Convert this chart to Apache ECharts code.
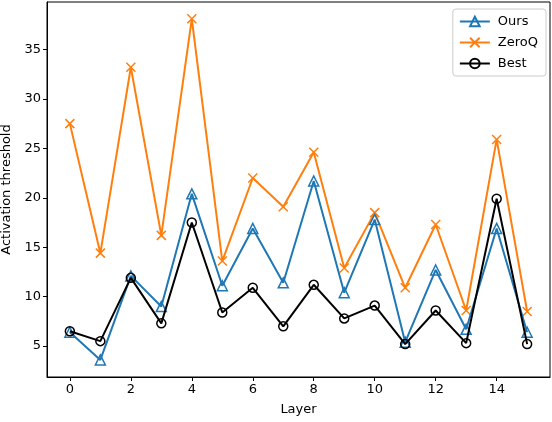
<!DOCTYPE html>
<html><head><meta charset="utf-8">
<script src="https://cdn.jsdelivr.net/npm/echarts@6/dist/echarts.min.js"></script>
<style>html,body{margin:0;padding:0;background:#fff}#c{width:552px;height:422px}</style>
</head><body><div id="c"></div>
<script>
const layers = [0,1,2,3,4,5,6,7,8,9,10,11,12,13,14,15];
const ours  = [6.4,3.6,12.1,9.0,20.4,11.1,16.9,11.4,21.7,10.4,17.8,5.4,12.7,6.7,16.9,6.4];
const zeroq = [27.5,14.4,33.2,16.2,38.1,13.6,22.0,19.1,24.6,12.9,18.5,10.9,17.3,8.6,25.9,8.5];
const best  = [6.5,5.5,11.9,7.3,17.5,8.4,10.9,7.0,11.2,7.8,9.1,5.2,8.6,5.3,19.9,5.2];
const xTicks = [0,2,4,6,8,10,12,14];
const yTicks = [5,10,15,20,25,30,35];

const pair = a => a.map((v,i)=>[layers[i], v]);
const font = 'DejaVu Sans';
const fs = 13;
const chart = echarts.init(document.getElementById('c'), null, {renderer:'canvas'});
const axisCommon = {
  axisLine:{show:true,onZero:false,lineStyle:{color:'#000',width:1}},
  axisTick:{show:true,inside:false,length:4,lineStyle:{color:'#000',width:1}},
  axisLabel:{color:'#000',fontFamily:font,fontSize:fs},
  splitLine:{show:false},
  nameTextStyle:{color:'#000',fontFamily:font,fontSize:fs}
};
chart.setOption({
  animation:false,
  grid:{left:47,right:2,top:2,bottom:45,containLabel:false,outerBoundsMode:'none',show:true,borderColor:'#000',borderWidth:1,backgroundColor:'transparent'},
  xAxis:Object.assign({}, axisCommon, {
    type:'value', min:-0.75, max:15.75,
    name:'Layer', nameLocation:'middle', nameGap:26,
    axisTick:Object.assign({}, axisCommon.axisTick, {customValues:xTicks}),
    axisLabel:Object.assign({}, axisCommon.axisLabel, {customValues:xTicks, margin:6})
  }),
  yAxis:Object.assign({}, axisCommon, {
    type:'value', min:1.875, max:39.8,
    name:'Activation threshold', nameLocation:'middle', nameGap:33,
    axisTick:Object.assign({}, axisCommon.axisTick, {customValues:yTicks}),
    axisLabel:Object.assign({}, axisCommon.axisLabel, {customValues:yTicks, margin:6})
  }),
  legend:{
    orient:'vertical', right:6, top:9, padding:[6,8,6,6], itemGap:8,
    itemWidth:30, itemHeight:12,
    backgroundColor:'rgba(255,255,255,0.8)', borderColor:'#cccccc', borderWidth:1, borderRadius:3,
    textStyle:{color:'#000',fontFamily:font,fontSize:fs,padding:[0,0,0,3]},
    data:['Ours','ZeroQ','Best']
  },
  series:[
    {name:'Ours', type:'line', data:pair(ours), symbol:'triangle', symbolSize:10,
     lineStyle:{color:'#1f77b4',width:2}, color:'#1f77b4',
     itemStyle:{color:'rgba(255,255,255,0)',borderColor:'#1f77b4',borderWidth:1.5}, z:2},
    {name:'ZeroQ', type:'line', data:pair(zeroq), symbol:'path://M0,0L10,10M10,0L0,10', symbolSize:9,
     lineStyle:{color:'#ff7f0e',width:2}, color:'#ff7f0e',
     itemStyle:{color:'rgba(255,255,255,0)',borderColor:'#ff7f0e',borderWidth:1.5}, z:1},
    {name:'Best', type:'line', data:pair(best), symbol:'circle', symbolSize:9,
     lineStyle:{color:'#000',width:2}, color:'#000',
     itemStyle:{color:'rgba(255,255,255,0)',borderColor:'#000',borderWidth:1.5}, z:3}
  ]
});
</script></body></html>
